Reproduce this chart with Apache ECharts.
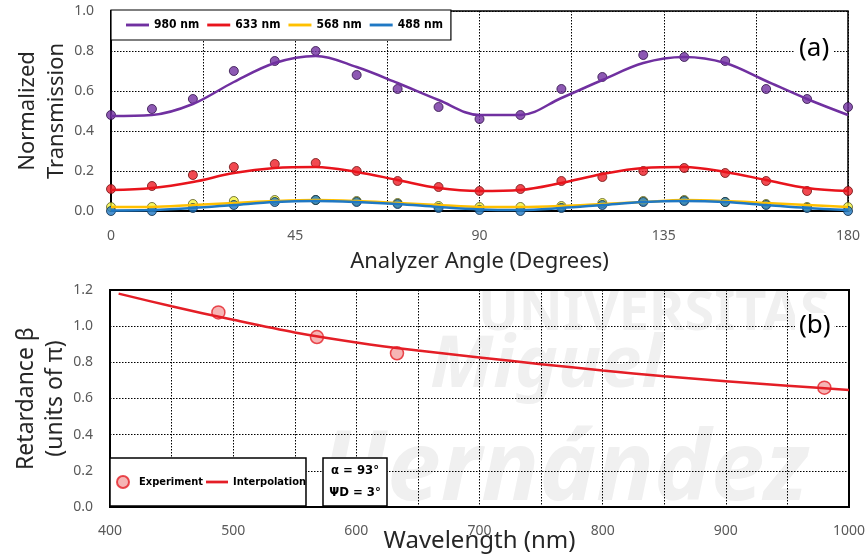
<!DOCTYPE html>
<html>
<head>
<meta charset="utf-8">
<title>Transmission and retardance</title>
<script src="https://cdn.jsdelivr.net/npm/echarts@6/dist/echarts.min.js"></script>
<style>
html, body { margin: 0; padding: 0; background: #fff; }
#main { width: 868px; height: 559px; }
</style>
</head>
<body>
<div id="main"></div>
<script>
// (a) analyzer angle in degrees
var angles = [0, 10, 20, 30, 40, 50, 60, 70, 80, 90, 100, 110, 120, 130, 140, 150, 160, 170, 180];

// measured points
var pts980 = [0.48, 0.51, 0.56, 0.70, 0.75, 0.80, 0.68, 0.61, 0.52, 0.46, 0.48, 0.61, 0.67, 0.78, 0.77, 0.75, 0.61, 0.56, 0.52];
var pts633 = [0.11, 0.125, 0.18, 0.22, 0.235, 0.24, 0.20, 0.15, 0.12, 0.10, 0.11, 0.15, 0.17, 0.20, 0.215, 0.19, 0.15, 0.10, 0.10];
var pts568 = [0.02, 0.02, 0.035, 0.05, 0.055, 0.055, 0.05, 0.04, 0.025, 0.02, 0.02, 0.025, 0.04, 0.05, 0.055, 0.045, 0.035, 0.02, 0.02];
var pts488 = [0.0, 0.0, 0.015, 0.03, 0.045, 0.055, 0.045, 0.035, 0.015, 0.005, 0.0, 0.015, 0.03, 0.045, 0.05, 0.045, 0.03, 0.015, 0.0];

var fit980 = [0.475, 0.48, 0.535, 0.645, 0.74, 0.775, 0.72, 0.64, 0.555, 0.48, 0.48, 0.565, 0.655, 0.74, 0.77, 0.74, 0.65, 0.56, 0.48];
var fit633 = [0.105, 0.115, 0.145, 0.19, 0.215, 0.22, 0.195, 0.155, 0.115, 0.10, 0.105, 0.14, 0.185, 0.215, 0.22, 0.195, 0.155, 0.115, 0.10];
var fit568 = [0.02, 0.02, 0.03, 0.04, 0.05, 0.055, 0.05, 0.04, 0.03, 0.02, 0.02, 0.025, 0.035, 0.045, 0.055, 0.05, 0.04, 0.03, 0.02];
var fit488 = [0.003, 0.005, 0.015, 0.03, 0.045, 0.05, 0.045, 0.035, 0.02, 0.008, 0.005, 0.015, 0.03, 0.045, 0.05, 0.045, 0.03, 0.015, 0.005];

// (b) retardance vs wavelength
var expWl = [488, 568, 633, 980];
var expBeta = [1.076, 0.94, 0.85, 0.66];
var interpWl = [407, 450, 500, 550, 600, 650, 700, 750, 800, 850, 900, 950, 1000];
var interpBeta = [1.18, 1.11, 1.035, 0.965, 0.91, 0.865, 0.827, 0.79, 0.755, 0.723, 0.696, 0.671, 0.647];

var FONT = '"Noto Sans", sans-serif';
var LEGFONT = '"DejaVu Sans Condensed", "DejaVu Sans", sans-serif';
var LINE_ICON = 'path://M0,0h24v3h-24z';

function pair(xs, ys) {
  return xs.map(function (x, i) { return [x, ys[i]]; });
}

function fitLine(name, ys, color) {
  return {
    name: name, type: 'line', xAxisIndex: 0, yAxisIndex: 0,
    data: pair(angles, ys), smooth: 0.35, symbol: 'none',
    lineStyle: { color: color, width: 2.5 }, itemStyle: { color: color }
  };
}
function points(name, ys, fill, edge) {
  return {
    name: name, type: 'scatter', xAxisIndex: 0, yAxisIndex: 0,
    data: pair(angles, ys), symbolSize: 9,
    itemStyle: { color: fill, borderColor: edge, borderWidth: 1 }
  };
}

var gridSplit = { show: true, lineStyle: { color: '#000', type: [1.5, 1.5], width: 1 } };
var tickLabel = { color: '#595959', fontSize: 14, fontFamily: FONT };

var myChart = echarts.init(document.getElementById('main'));
myChart.setOption({
  backgroundColor: '#fff',
  animation: false,
  grid: [
    { left: 111, right: 20, top: 11, height: 200, outerBoundsMode: 'none', show: true, borderColor: '#000', borderWidth: 1.5 },
    { left: 110, right: 19, top: 290, height: 217, outerBoundsMode: 'none', show: true, borderColor: '#000', borderWidth: 2 }
  ],
  xAxis: [{
    gridIndex: 0, type: 'value', min: 0, max: 180, interval: 22.5,
    axisLine: { lineStyle: { color: '#000', width: 2 } },
    axisTick: { show: false },
    axisLabel: Object.assign({ margin: 18, formatter: function (v) { return v % 45 === 0 ? v : ''; } }, tickLabel),
    splitLine: gridSplit,
    name: 'Analyzer Angle (Degrees)', nameLocation: 'middle', nameGap: 40, nameMoveOverlap: false,
    nameTextStyle: { fontSize: 22, color: '#262626', fontFamily: FONT }
  }, {
    gridIndex: 1, type: 'value', min: 400, max: 1000, interval: 50,
    axisLine: { lineStyle: { color: '#000', width: 2 } },
    axisTick: { show: false },
    axisLabel: Object.assign({ margin: 17, formatter: function (v) { return v % 100 === 0 ? v : ''; } }, tickLabel),
    splitLine: gridSplit,
    name: 'Wavelength (nm)', nameLocation: 'middle', nameGap: 22, nameMoveOverlap: false,
    nameTextStyle: { fontSize: 24, color: '#262626', fontFamily: FONT }
  }],
  yAxis: [{
    gridIndex: 0, type: 'value', min: 0, max: 1, interval: 0.2,
    axisLine: { show: true, lineStyle: { color: '#000', width: 2 } },
    axisTick: { show: false },
    axisLabel: Object.assign({ margin: 17, formatter: function (v) { return v.toFixed(1); } }, tickLabel),
    splitLine: gridSplit,
    name: 'Normalized\nTransmission', nameLocation: 'middle', nameGap: 40, nameMoveOverlap: false,
    nameTextStyle: { fontSize: 22, color: '#262626', fontFamily: FONT, lineHeight: 29 }
  }, {
    gridIndex: 1, type: 'value', min: 0, max: 1.2, interval: 0.2,
    axisLine: { show: true, lineStyle: { color: '#000', width: 2 } },
    axisTick: { show: false },
    axisLabel: Object.assign({ margin: 17, formatter: function (v) { return v.toFixed(1); } }, tickLabel),
    splitLine: gridSplit,
    name: 'Retardance β\n(units of π)', nameLocation: 'middle', nameGap: 40, nameMoveOverlap: false,
    nameTextStyle: { fontSize: 23, color: '#262626', fontFamily: FONT, lineHeight: 29 }
  }],
  legend: [{
    data: ['980 nm', '633 nm', '568 nm', '488 nm'].map(function (n) { return { name: n, icon: LINE_ICON }; }),
    left: 111, top: 10, orient: 'horizontal',
    itemWidth: 23, itemHeight: 14, itemGap: 8,
    padding: [9, 8, 9, 15],
    backgroundColor: '#fff', borderColor: '#000', borderWidth: 1.2,
    selectedMode: false,
    textStyle: { fontSize: 12, fontWeight: 'bold', color: '#000', fontFamily: LEGFONT }
  }, {
    data: [{ name: 'Experiment', icon: 'circle' }, { name: 'Interpolation', icon: LINE_ICON }],
    left: 110, top: 458, orient: 'horizontal',
    itemWidth: 22, itemHeight: 12, itemGap: 3,
    padding: [17, 0, 17, 6],
    backgroundColor: '#fff', borderColor: '#000', borderWidth: 1.5,
    selectedMode: false,
    textStyle: { fontSize: 11, fontWeight: 'bold', color: '#000', fontFamily: LEGFONT }
  }],
  graphic: [
    { type: 'text', z: -10, left: 478, top: 288, style: { text: 'UNIVERSITAS', font: 'bold 54px "Noto Sans"', fill: '#f0f0f0' } },
    { type: 'text', z: -10, left: 430, top: 330, style: { text: 'Miguel', font: 'italic bold 72px "Noto Sans"', fill: '#f0f0f0' } },
    { type: 'text', z: -10, left: 320, top: 425, style: { text: 'Hernández', font: 'italic bold 96px "Noto Sans"', fill: '#f0f0f0' } },
    { type: 'text', z: 50, left: 795, top: 36, style: { text: '(a)', font: '26px "Noto Sans"', fill: '#000', backgroundColor: '#fff', padding: [0, 4] } },
    { type: 'text', z: 50, left: 795, top: 313, style: { text: '(b)', font: '26px "Noto Sans"', fill: '#000', backgroundColor: '#fff', padding: [0, 4] } },
    { type: 'rect', z: 50, shape: { x: 323, y: 458, width: 64, height: 48 }, style: { fill: '#fff', stroke: '#000', lineWidth: 1.5 } },
    { type: 'text', z: 51, x: 355, y: 471, style: { text: 'α = 93°', font: 'bold 13px ' + LEGFONT, fill: '#000', align: 'center', verticalAlign: 'middle' } },
    { type: 'text', z: 51, x: 355, y: 493, style: { text: 'ΨD = 3°', font: 'bold 13px ' + LEGFONT, fill: '#000', align: 'center', verticalAlign: 'middle' } }
  ],
  series: [
    fitLine('980 nm', fit980, '#7030a0'),
    fitLine('633 nm', fit633, '#e8141c'),
    fitLine('568 nm', fit568, '#ffc000'),
    fitLine('488 nm', fit488, '#1f78c4'),
    points('p980', pts980, '#7030a0', '#2e1046'),
    points('p633', pts633, '#ee1c24', '#6e1010'),
    points('p568', pts568, '#f2f23c', '#5a5a1e'),
    points('p488', pts488, '#1f78c4', '#0c2c48'),
    {
      name: 'Interpolation', type: 'line', xAxisIndex: 1, yAxisIndex: 1,
      data: pair(interpWl, interpBeta), smooth: 0.3, symbol: 'none',
      lineStyle: { color: '#e41e26', width: 2.5 }, itemStyle: { color: '#e41e26' }
    },
    {
      name: 'Experiment', type: 'scatter', xAxisIndex: 1, yAxisIndex: 1,
      data: pair(expWl, expBeta), symbol: 'circle', symbolSize: 13,
      itemStyle: { color: '#f4a3a3', borderColor: '#e41e26', borderWidth: 1.5 }
    }
  ]
});
</script>
</body>
</html>
